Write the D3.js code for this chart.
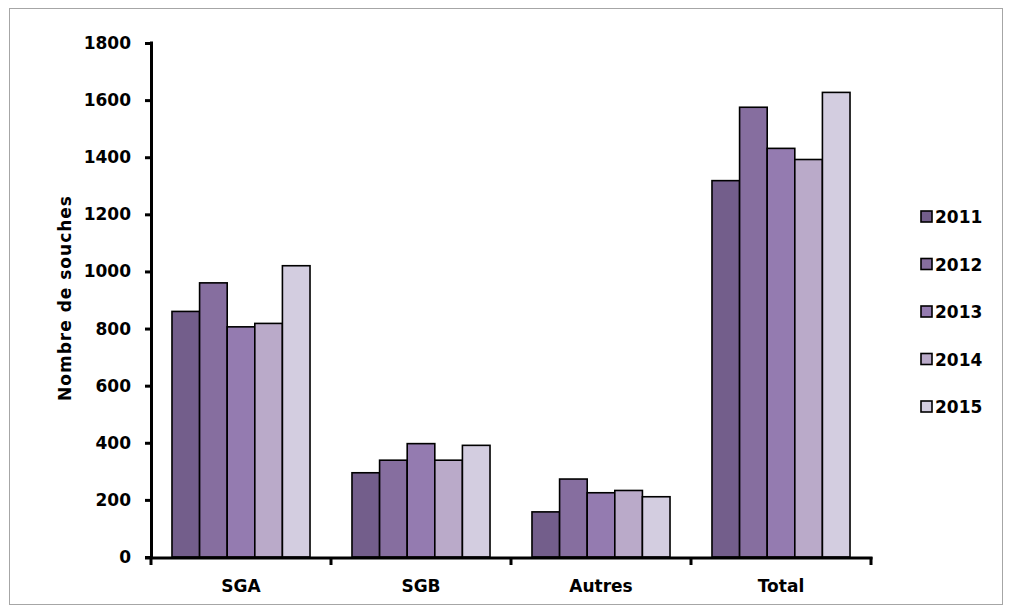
<!DOCTYPE html>
<html>
<head>
<meta charset="utf-8">
<script src="https://cdn.jsdelivr.net/npm/d3@7"></script>
<style>
  html, body { margin: 0; padding: 0; background: #fff; }
  svg { display: block; }
  text { font-family: "DejaVu Sans", sans-serif; font-weight: bold; fill: #000; }
</style>
</head>
<body>
<svg id="chart" width="1011" height="610"></svg>
<script>
// Nombre de souches par groupe et par année
const categories = ["SGA", "SGB", "Autres", "Total"];
const years = ["2011", "2012", "2013", "2014", "2015"];
const values2011 = [860, 295, 158, 1318];
const values2012 = [960, 339, 273, 1575];
const values2013 = [806, 397, 225, 1431];
const values2014 = [818, 339, 233, 1392];
const values2015 = [1020, 391, 211, 1627];
const yTicks = [0, 200, 400, 600, 800, 1000, 1200, 1400, 1600, 1800];
const colors = ["#735e8b", "#866e9f", "#947bb0", "#baaac9", "#d3cde0"];

const series = [values2011, values2012, values2013, values2014, values2015];

const svg = d3.select("#chart");

// outer frame
svg.append("rect")
  .attr("x", 9.5).attr("y", 8.5)
  .attr("width", 993).attr("height", 596)
  .attr("fill", "none").attr("stroke", "#a6a6a6").attr("stroke-width", 1);

const plotLeft = 151, plotRight = 871, plotTop = 43, plotBottom = 557;

const y = d3.scaleLinear().domain([0, 1800]).range([plotBottom, plotTop]);
const x0 = d3.scaleBand().domain(categories).range([plotLeft, plotRight]).paddingInner(0).paddingOuter(0);
const x1 = d3.scaleBand().domain(years).range([0, x0.bandwidth()]).paddingInner(0).paddingOuter(0.76);
const color = d3.scaleOrdinal().domain(years).range(colors);

// bars
const groups = svg.append("g").selectAll("g")
  .data(categories)
  .join("g")
  .attr("transform", c => `translate(${x0(c)},0)`);

groups.selectAll("rect")
  .data((c, ci) => years.map((yr, yi) => ({ year: yr, value: series[yi][ci] })))
  .join("rect")
  .attr("x", d => x1(d.year))
  .attr("y", d => y(d.value))
  .attr("width", x1.bandwidth())
  .attr("height", d => plotBottom - y(d.value))
  .attr("fill", d => color(d.year))
  .attr("stroke", "#000")
  .attr("stroke-width", 1.6);

// y axis
const yAxis = svg.append("g")
  .attr("transform", `translate(${plotLeft},0)`)
  .call(d3.axisLeft(y).tickValues(yTicks).tickSize(6).tickSizeOuter(0).tickPadding(14).tickFormat(d3.format("d")));
yAxis.select(".domain").attr("stroke", "#000").attr("stroke-width", 3)
  .attr("d", `M0.5,${plotTop - 1.5}V${plotBottom + 1.5}`);
yAxis.selectAll(".tick line").attr("stroke", "#000").attr("stroke-width", 3);
yAxis.selectAll(".tick text").style("font-size", "17px").style("font-family", "DejaVu Sans").style("font-weight", "bold");

// x axis
const xAxis = svg.append("g")
  .attr("transform", `translate(0,${plotBottom})`);
xAxis.append("line")
  .attr("x1", plotLeft - 6).attr("x2", plotRight + 1.5)
  .attr("y1", 1).attr("y2", 1)
  .attr("stroke", "#000").attr("stroke-width", 3);
const boundaries = categories.map(c => x0(c)).concat([x0(categories[categories.length - 1]) + x0.bandwidth()]);
xAxis.selectAll("line.tick")
  .data(boundaries)
  .join("line")
  .attr("class", "tick")
  .attr("x1", d => d).attr("x2", d => d)
  .attr("y1", 0).attr("y2", 8)
  .attr("stroke", "#000").attr("stroke-width", 3);
xAxis.selectAll("text")
  .data(categories)
  .join("text")
  .attr("x", c => x0(c) + x0.bandwidth() / 2)
  .attr("y", 35)
  .attr("text-anchor", "middle")
  .style("font-size", "17px")
  .text(c => c);

// y axis title
svg.append("text")
  .attr("transform", `translate(71,298) rotate(-90)`)
  .attr("text-anchor", "middle")
  .style("font-size", "17px")
  .style("letter-spacing", "1px")
  .text("Nombre de souches");

// legend
const legend = svg.append("g").selectAll("g")
  .data(years)
  .join("g")
  .attr("transform", (d, i) => `translate(921,${211 + i * 47.5})`);
legend.append("rect")
  .attr("width", 11).attr("height", 11)
  .attr("fill", d => color(d))
  .attr("stroke", "#000").attr("stroke-width", 1.6);
legend.append("text")
  .attr("x", 14).attr("y", 12)
  .style("font-size", "17px")
  .text(d => d);
</script>
</body>
</html>
